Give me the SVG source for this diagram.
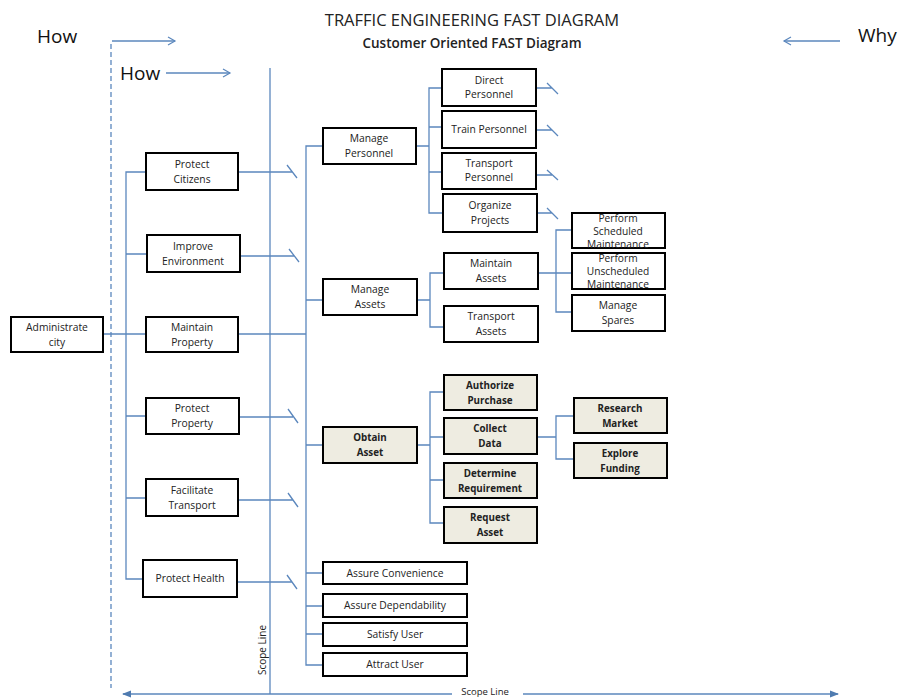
<svg xmlns="http://www.w3.org/2000/svg" width="903" height="698" viewBox="0 0 903 698">
<style>
.bx{fill:#ffffff;stroke:#000;stroke-width:2}
.sh{fill:#eeece1;stroke:#000;stroke-width:2}
.t{font-family:"Open Sans","Liberation Sans",sans-serif;font-size:10.3px;fill:#222;text-anchor:middle}
.tb{font-family:"Open Sans","Liberation Sans",sans-serif;font-size:9.8px;font-weight:bold;fill:#222;text-anchor:middle}
.ts{font-family:"Open Sans","Liberation Sans",sans-serif;font-size:10.2px;fill:#222;text-anchor:middle}
.c{fill:none;stroke:#5b87bd;stroke-width:1.3}
.big{font-family:"Open Sans","Liberation Sans",sans-serif;font-size:19px;fill:#111}
</style>
<defs>
<marker id="open" markerWidth="10" markerHeight="10" refX="8" refY="5" orient="auto" markerUnits="userSpaceOnUse">
<path d="M1,1 L8,5 L1,9" fill="none" stroke="#5b87bd" stroke-width="1.2"/>
</marker>
<marker id="tri" markerWidth="10" markerHeight="10" refX="8" refY="5" orient="auto-start-reverse" markerUnits="userSpaceOnUse">
<path d="M0,1.5 L9,5 L0,8.5 Z" fill="#4f7bb0"/>
</marker>
</defs>
<rect width="903" height="698" fill="#ffffff"/>

<g id="titles">
<text x="472" y="26" style="font-family:'Open Sans','Liberation Sans',sans-serif;font-size:16.5px;fill:#222" text-anchor="middle">TRAFFIC ENGINEERING FAST DIAGRAM</text>
<text x="472" y="48" style="font-family:'Open Sans','Liberation Sans',sans-serif;font-size:13.5px;font-weight:600;fill:#222" text-anchor="middle">Customer Oriented FAST Diagram</text>
<text class="big" x="37" y="43">How</text>
<text class="big" x="120" y="80">How</text>
<text class="big" x="858" y="42">Why</text>
<text x="263" y="650" transform="rotate(-90 263 650)" style="font-family:'Open Sans','Liberation Sans',sans-serif;font-size:10px;fill:#222" text-anchor="middle" dominant-baseline="middle">Scope Line</text>
<text x="485" y="694.5" style="font-family:'Open Sans','Liberation Sans',sans-serif;font-size:9.5px;fill:#222" text-anchor="middle">Scope Line</text>
</g>

<g id="connectors">
<path class="c" d="M112,41 H175" marker-end="url(#open)"/>
<path class="c" d="M166,73 H230" marker-end="url(#open)"/>
<path class="c" d="M840,41 H784" marker-end="url(#open)"/>
<path class="c" d="M111,44 V688" stroke-dasharray="5,3"/>
<path class="c" d="M270,68 V694"/>
<path class="c" d="M452,694 H123" marker-end="url(#tri)"/>
<path class="c" d="M523,694 H838" marker-end="url(#tri)"/>

<path class="c" d="M103,334 H146"/>
<path class="c" d="M146,172 H126 V579 H143 M126,254 H146 M126,416 H146 M126,498 H146"/>
<path class="c" d="M238,172 H292 M287,165 L297,178"/>
<path class="c" d="M240,256 H294 M289,249 L299,262"/>
<path class="c" d="M238,334 H306"/>
<path class="c" d="M239,417 H293 M288,409 L298,423"/>
<path class="c" d="M238,500 H293 M288,493 L298,507"/>
<path class="c" d="M237,582 H292 M287,575 L297,589"/>

<path class="c" d="M323,146 H306 V665 H323 M306,300 H323 M306,445 H323 M306,573 H323 M306,606 H323 M306,634 H323"/>

<path class="c" d="M416,146 H429 M442,88 H429 V213 H443 M429,127 H442 M429,172 H442"/>
<path class="c" d="M536,88 H552 M547,83 L558,94"/>
<path class="c" d="M536,130 H552 M547,125 L558,136"/>
<path class="c" d="M536,175 H552 M547,170 L558,180"/>
<path class="c" d="M537,213 H552 M547,208 L558,219"/>

<path class="c" d="M417,300 H430 M444,273 H430 V327 H444"/>
<path class="c" d="M538,273 H572 M572,230 H556 V312 H572"/>

<path class="c" d="M417,445 H430 M444,392 H430 V523 H444 M430,437 H444 M430,480 H444"/>
<path class="c" d="M537,437 H556 M574,416 H556 V459 H574"/>
</g>

<g id="administrate-city"><rect class="bx" x="11" y="317" width="92" height="35"/><text class="t" x="57" y="331">Administrate</text><text class="t" x="57" y="346">city</text></g>
<g id="protect-citizens"><rect class="bx" x="146" y="153" width="92" height="37"/><text class="t" x="192" y="168">Protect</text><text class="t" x="192" y="183">Citizens</text></g>
<g id="improve-environment"><rect class="bx" x="147" y="235" width="93" height="37"/><text class="t" x="193" y="250">Improve</text><text class="t" x="193" y="265">Environment</text></g>
<g id="maintain-property"><rect class="bx" x="146" y="317" width="92" height="35"/><text class="t" x="192" y="331">Maintain</text><text class="t" x="192" y="346">Property</text></g>
<g id="protect-property"><rect class="bx" x="146" y="398" width="93" height="36"/><text class="t" x="192" y="412">Protect</text><text class="t" x="192" y="427">Property</text></g>
<g id="facilitate-transport"><rect class="bx" x="146" y="479" width="92" height="37"/><text class="t" x="192" y="494">Facilitate</text><text class="t" x="192" y="509">Transport</text></g>
<g id="protect-health"><rect class="bx" x="143" y="560" width="94" height="37"/><text class="t" x="190" y="582">Protect Health</text></g>

<g id="manage-personnel"><rect class="bx" x="323" y="128" width="93" height="36"/><text class="t" x="369" y="142">Manage</text><text class="t" x="369" y="157">Personnel</text></g>
<g id="manage-assets"><rect class="bx" x="323" y="279" width="94" height="36"/><text class="t" x="370" y="293">Manage</text><text class="t" x="370" y="308">Assets</text></g>
<g id="obtain-asset"><rect class="sh" x="323" y="427" width="94" height="36"/><text class="tb" x="370" y="441">Obtain</text><text class="tb" x="370" y="456">Asset</text></g>
<g id="assure-convenience"><rect class="bx" x="323" y="562" width="144" height="22"/><text class="t" x="395" y="577">Assure Convenience</text></g>
<g id="assure-dependability"><rect class="bx" x="323" y="594" width="144" height="23"/><text class="t" x="395" y="609">Assure Dependability</text></g>
<g id="satisfy-user"><rect class="bx" x="323" y="623" width="144" height="23"/><text class="t" x="395" y="638">Satisfy User</text></g>
<g id="attract-user"><rect class="bx" x="323" y="653" width="144" height="23"/><text class="t" x="395" y="668">Attract User</text></g>

<g id="direct-personnel"><rect class="bx" x="442" y="69" width="94" height="37"/><text class="t" x="489" y="84">Direct</text><text class="t" x="489" y="98">Personnel</text></g>
<g id="train-personnel"><rect class="bx" x="442" y="111" width="94" height="37"/><text class="t" x="489" y="133">Train Personnel</text></g>
<g id="transport-personnel"><rect class="bx" x="442" y="153" width="94" height="36"/><text class="t" x="489" y="167">Transport</text><text class="t" x="489" y="181">Personnel</text></g>
<g id="organize-projects"><rect class="bx" x="443" y="194" width="94" height="38"/><text class="t" x="490" y="209">Organize</text><text class="t" x="490" y="224">Projects</text></g>

<g id="maintain-assets"><rect class="bx" x="444" y="253" width="94" height="36"/><text class="t" x="491" y="267">Maintain</text><text class="t" x="491" y="282">Assets</text></g>
<g id="transport-assets"><rect class="bx" x="444" y="306" width="94" height="36"/><text class="t" x="491" y="320">Transport</text><text class="t" x="491" y="335">Assets</text></g>

<g id="perform-scheduled-maintenance"><rect class="bx" x="572" y="213" width="93" height="35"/><text class="ts" x="618" y="222">Perform</text><text class="ts" x="618" y="235">Scheduled</text><text class="ts" x="618" y="247.5">Maintenance</text></g>
<g id="perform-unscheduled-maintenance"><rect class="bx" x="572" y="253" width="93" height="36"/><text class="ts" x="618" y="262">Perform</text><text class="ts" x="618" y="275">Unscheduled</text><text class="ts" x="618" y="288">Maintenance</text></g>
<g id="manage-spares"><rect class="bx" x="572" y="295" width="93" height="36"/><text class="t" x="618" y="309">Manage</text><text class="t" x="618" y="324">Spares</text></g>

<g id="authorize-purchase"><rect class="sh" x="444" y="375" width="93" height="35"/><text class="tb" x="490" y="389">Authorize</text><text class="tb" x="490" y="404">Purchase</text></g>
<g id="collect-data"><rect class="sh" x="444" y="418" width="93" height="36"/><text class="tb" x="490" y="432">Collect</text><text class="tb" x="490" y="447">Data</text></g>
<g id="determine-requirement"><rect class="sh" x="444" y="463" width="93" height="35"/><text class="tb" x="490" y="477">Determine</text><text class="tb" x="490" y="492">Requirement</text></g>
<g id="request-asset"><rect class="sh" x="444" y="507" width="93" height="36"/><text class="tb" x="490" y="521">Request</text><text class="tb" x="490" y="536">Asset</text></g>
<g id="research-market"><rect class="sh" x="574" y="398" width="93" height="35"/><text class="tb" x="620" y="412">Research</text><text class="tb" x="620" y="427">Market</text></g>
<g id="explore-funding"><rect class="sh" x="574" y="443" width="93" height="35"/><text class="tb" x="620" y="457">Explore</text><text class="tb" x="620" y="472">Funding</text></g>
</svg>
